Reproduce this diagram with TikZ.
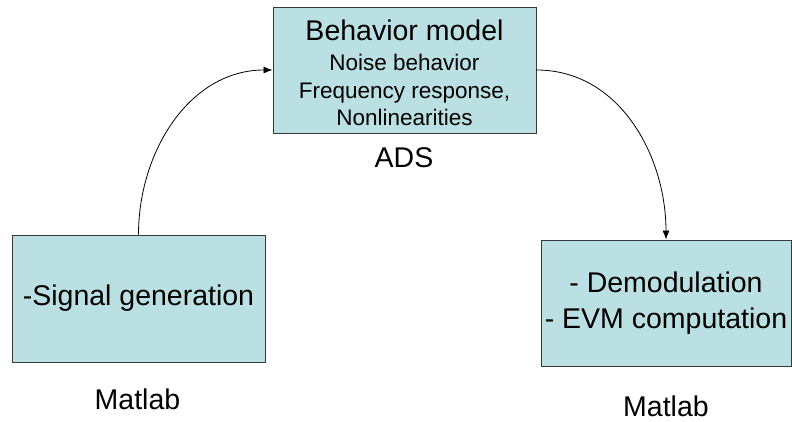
\documentclass[tikz,border=0pt]{standalone}
\usepackage{fontspec}
\setmainfont{Liberation Sans}
\usetikzlibrary{positioning, arrows.meta}
\definecolor{boxfill}{HTML}{BBE0E3}
\definecolor{boxline}{HTML}{383838}

\begin{document}
\begin{tikzpicture}[x=1pt, y=1pt, >={Latex[length=9pt, width=7pt]}]
    % Canvas
    \useasboundingbox (0,0) rectangle (792,-421);
    \tikzset{
        block/.style={draw=boxline, fill=boxfill, line width=0.9pt, inner sep=0pt, align=center},
        tool/.style={font=\fontsize{28.5}{36}\selectfont}
    }

    % Blocks
    \node[block, minimum width=263pt, minimum height=126pt,
          font=\fontsize{22.5}{27.7}\selectfont] (model) at (404.5,-70)
        {{\fontsize{28.5}{30}\selectfont\rule{0pt}{27pt}Behavior model}\\[2pt] Noise behavior\\ Frequency response,\\ Nonlinearities};
    \node[block, tool, minimum width=253pt, minimum height=127pt] (sig) at (138.5,-298.5)
        {-Signal generation};
    \node[block, tool, minimum width=250pt, minimum height=126pt] (demod) at (666,-303)
        {- Demodulation\\- EVM computation};

    % Tool names
    \node[tool] (ads) at (404,-158) {ADS};
    \node[tool] (matlabL) at (137.5,-399) {Matlab};
    \node[tool] (matlabR) at (666,-406) {Matlab};

    % Flow
    \draw[->, line width=0.8pt] (sig.north) to[out=90, in=180] (model.west);
    \draw[->, line width=0.8pt] (model.east) to[out=0, in=90] (demod.north);
\end{tikzpicture}
\end{document}
